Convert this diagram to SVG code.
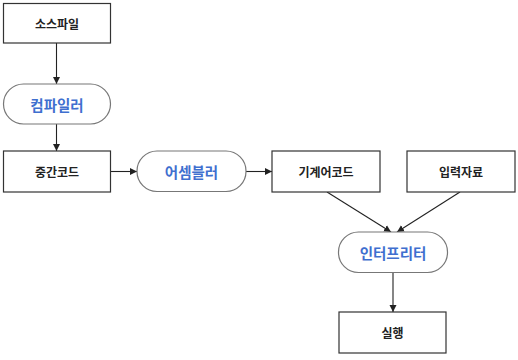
<svg xmlns="http://www.w3.org/2000/svg" width="518" height="360" viewBox="0 0 518 360">
<defs>
<marker id="ah" markerWidth="8" markerHeight="8" refX="7" refY="4" orient="auto" markerUnits="userSpaceOnUse">
<path d="M0,0.5 L7,4 L0,7.5 Z" fill="#222"/>
</marker>
<style>
.box{fill:#fff;stroke:#333;stroke-width:1.2}
.pill{fill:#fff;stroke:#777;stroke-width:1.2}
.bt{font-family:"Noto Sans CJK KR","Noto Sans",sans-serif;font-size:12px;font-weight:bold;fill:#222;text-anchor:middle;dominant-baseline:central}
.pt{font-family:"Noto Sans CJK KR","Noto Sans",sans-serif;font-size:14.5px;font-weight:bold;fill:#3f6fcf;text-anchor:middle;dominant-baseline:central}
.c{stroke:#222;stroke-width:1.1;fill:none;marker-end:url(#ah)}
</style>
</defs>
<rect width="518" height="360" fill="#fff"/>
<g id="connectors">
<line class="c" x1="56.5" y1="43" x2="56.5" y2="84"/>
<line class="c" x1="56.5" y1="124" x2="56.5" y2="151"/>
<line class="c" x1="110" y1="171.5" x2="137" y2="171.5"/>
<line class="c" x1="246" y1="171.5" x2="272" y2="171.5"/>
<line class="c" x1="327" y1="192" x2="391" y2="232"/>
<line class="c" x1="460" y1="192" x2="397" y2="232"/>
<line class="c" x1="393" y1="272" x2="393" y2="312"/>
</g>
<g id="source"><rect class="box" x="3.5" y="3.5" width="107" height="39.5"/><text class="bt" x="57" y="23.5">소스파일</text></g>
<g id="compiler"><rect class="pill" x="3.5" y="84" width="107" height="40" rx="20" ry="20"/><text class="pt" x="57" y="104">컴파일러</text></g>
<g id="intermediate"><rect class="box" x="3.5" y="151" width="107" height="41"/><text class="bt" x="57" y="171.5">중간코드</text></g>
<g id="assembler"><rect class="pill" x="137" y="151" width="109" height="40.5" rx="20" ry="20"/><text class="pt" x="191.5" y="171.5">어셈블러</text></g>
<g id="machinecode"><rect class="box" x="272" y="151" width="108" height="41"/><text class="bt" x="326" y="171.5">기계어코드</text></g>
<g id="input"><rect class="box" x="407" y="151" width="108" height="41"/><text class="bt" x="461" y="171.5">입력자료</text></g>
<g id="interpreter"><rect class="pill" x="338.5" y="232" width="109" height="40.5" rx="20" ry="20"/><text class="pt" x="393" y="252">인터프리터</text></g>
<g id="execute"><rect class="box" x="339" y="312" width="107" height="41"/><text class="bt" x="392.5" y="332.5">실행</text></g>
</svg>
